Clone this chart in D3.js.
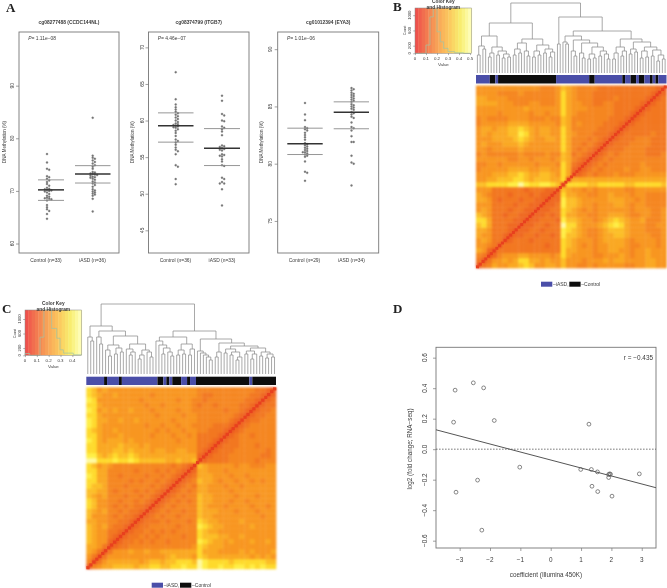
<!DOCTYPE html>
<html><head><meta charset="utf-8">
<script src="https://cdn.jsdelivr.net/npm/d3@7/dist/d3.min.js"></script>
<style>html,body{margin:0;padding:0;background:#fff}svg{display:block;font-family:"Liberation Sans",Arial,sans-serif}</style>
</head><body><svg id="c" width="667" height="588"></svg>
<script>
// ---------- Panel A data ----------
const a1Control=[77,75.4,74.2,74,72.8,72.6,72.3,72,71.7,71.3,71,70.6,70.4,70.3,70.2,70.1,70,69.9,69.7,69.4,69.1,68.9,68.7,68.6,68.5,68.4,68.2,67.3,66.9,66.5,66.2,65.6,64.7];
const a1Iasd=[83.9,76.7,76.3,76.1,75.8,75.5,75.2,74.9,74.6,74.2,73.6,73.5,73.3,73.2,73.1,73,72.9,72.7,72.6,72.5,72.3,72.1,71.8,71.6,71.4,71.1,70.8,70.3,70.1,69.9,69.7,69.5,69.3,69.1,68.5,66.1];
const a2Control=[66.6,62.9,62.2,61.8,61.5,61.2,61,60.8,60.6,60.4,60.2,60,59.8,59.6,59.5,59.4,59.3,59.2,59.1,59,58.8,58.6,58.3,57.9,57.4,57.2,57,56.7,56.3,56,55.8,55.4,53.9,53.7,52,51.3];
const a2Iasd=[63.4,62.7,60.9,60.7,60,59.9,59.2,59,58.8,58.5,58,56.6,56.5,56.4,56.2,56.1,56,55.9,55.4,55.3,55.2,55.1,54.7,54.4,53.9,53.8,52.2,52,51.6,51.4,51.4,50.6,48.4];
const a3Control=[85.3,84.3,83.8,83.2,83.1,83,82.9,82.7,82.5,82.3,82.1,81.8,81.7,81.6,81.5,81.4,81.3,81.2,81.1,81,81,80.9,80.8,80.7,80.6,80.2,79.3,79.2,78.5];
const a3Iasd=[86.6,86.5,86.4,86.2,86.1,86,85.9,85.8,85.7,85.6,85.5,85.4,85.2,85.1,85,84.9,84.8,84.7,84.5,84.4,84.3,84.1,84,83.6,83.2,83.1,82.9,82.4,81.9,81.9,80.7,80.1,80,78.1];
const a1Summary=[[70.2,72.1,68.2],[73.2,74.8,71.5]];
const a2Summary=[[59.3,61.05,57.05],[56.2,58.9,53.85]];
const a3Summary=[[81.75,83.1,80.8],[84.5,85.4,83.05]];
const a1Ticks=[60,70,80,90], a2Ticks=[45,50,55,60,65,70], a3Ticks=[75,80,85,90];
const a1Domain=[58.2,100.2], a2Domain=[41.9,72.1], a3Domain=[72.2,91.5];
// ---------- Panel D data ----------
const dX=[-3.15,-2.55,-2.21,-3.2,-1.86,1.26,-1.02,0.99,1.34,1.54,1.91,1.94,1.97,1.91,2.92,1.36,1.55,2.02,-2.41,-3.12,-2.27];
const dY=[0.387,0.435,0.402,0.177,0.188,0.164,-0.118,-0.133,-0.133,-0.149,-0.166,-0.162,-0.164,-0.186,-0.162,-0.243,-0.278,-0.308,-0.203,-0.282,-0.531];
const dFit=[-0.071,-0.0524];
const dXTicks=[-3,-2,-1,0,1,2,3], dYTicks=[-0.6,-0.4,-0.2,0,0.2,0.4,0.6];
// ---------- Heatmaps: lower triangles, bottom row first, column left to right; level digits ----------
const heatB=["1","31","431","6521","55431","565331","6553321","66533321","786333221","8863333221","76533233221","565333233221","5553333233221","66532333233221","654333233323221","5553333332333221","77888899a98899871","556677788767776681","5556667787667765861","45555566665566558621","445545555554555486321","5555554455455545764321","45444444544445447634321","554555556555555586434321","5655566676555555864434321","55566667876556658644434321","565666779865665586544433321","5665667787656655864444433321","45555566665555547645444433321","454444555544454476444444433321","5555455555455455865444444433321","55555555565555558655544444333321","666655544455444586554433443333321","6655554444444445865444333343333321","55554444544444458654443333333333321","555555555555444576544443333333333321"];
const heatC=["1","41","531","6531","66531","765521","7655321","76553321","765643321","6655443321","75554343321","765644343321","8755434343321","87554434434321","765644434434321","7766434443434321","87764443444434321","886644443434434321","9866443444434434321","88664444434443434321","875654444444444434321","aa88898898777776676671","99767877876666666666621","886667767666566556655321","8866667666565555555553321","98656665655555555455533321","886555655555455545545333321","8765565555555454554554433321","98655555555455455455444433321","986655655655555545555444444321","8865555555555455554554444444321","98565655655545555455444444344321","886555555554554555554344344443321","9855555555455555545544344444443321","87655655555545555555543344444443321","875655555555555555555444444444443321"];
const heatLevels=["#E8401E","#EC5620","#EF6820","#F27720","#F58620","#F89620","#FAA822","#FCBE26","#FEDA2C","#FFEE45","#FFF9A0"];
const diagColor="#E8401E";
// ---------- Dendrograms: [merge height, left, right], 0 = leaf ----------
const treeB=[70,[50,[37,[27,[18,0,0],[24,0,0]],[26,[20,[16,0,0],0],[22,[18,0,0],[19,[15,0,0],[16,0,0]]]]],
 [34,[30,[24,[18,0,0],[20,0,0]],[22,0,[17,0,0]]],[28,[22,[16,0,0],[18,0,0]],[24,[20,0,0],[21,[16,0,0],0]]]]],
 [56,[29,0,0],[42,[37,[31,0,[29,0,0]],[33,[22,0,[17,0,0]],[30,[20,0,[15,0,0]],[26,[19,[14,0,0],[15,0,0]],[22,[17,0,0],[19,0,[14,0,0]]]]]]],
 [34,[26,[20,[14,0,0],0],[22,[17,0,0],0]],[31,[24,[19,0,0],[21,0,0]],[26,[22,[15,0,0],[16,0,0]],[23,[17,0,0],[18,[12,0,0],[14,0,0]]]]]]]]];
const treeC=[70,[48,[37,0,[33,0,0]],[43,[37,0,[30,0,0]],[38,[29,[24,0,[18,0,0]],[26,[20,0,0],[22,0,0]]],[30,[25,0,[22,[19,0,0],0]],[24,[19,[15,0,0],0],[22,0,[17,0,0]]]]]]],
 [43,[37,[33,0,[29,0,[26,[20,0,0],[22,0,[18,0,0]]]]],[30,[24,[19,0,0],[20,0,0]],[25,[19,0,0],0]]],
 [35,[23,0,[21,0,[19,0,[17,0,[14,0,0]]]]],[31,[22,[17,0,0],0],[28,[25,[21,0,0],[22,[19,0,0],[17,[14,0,0],0]]],[26,[23,[20,0,0],[20,[15,0,0],0]],[22,[18,0,0],[20,[16,0,0],[17,0,0]]]]]]]]];
// ---------- Group colour bars: run lengths, starting with iASD ----------
const barRunsB=[5,2,1,21,12,2,10,1,2,2,1,2,2,1,1,1,3];
const barRunsC=[6,1,4,1,12,2,1,1,1,3,2,1,2,18,1,8];
// ---------- Colour keys ----------
const keyStops=["#EE4B4B","#F27A50","#F8A558","#FBC85E","#F8EE70","#FFFFC0"];
const histEdgesB=[0,0.1,0.136,0.166,0.2,0.23,0.26,0.3,0.36,0.44,0.5];
const histCountsB=[0,217,956,1170,565,300,130,43,15,0];
const histEdgesC=[0,0.04,0.127,0.16,0.225,0.268,0.296,0.324,0.408,0.479];
const histCountsC=[50,0,500,1250,740,470,150,60,15];
const keyCountTicks=[0,200,600,1000];
const keyXTicksB=[0,0.1,0.2,0.3,0.4,0.5], keyXTicksC=[0,0.1,0.2,0.3,0.4];

const svg=d3.select("#c");
const root=svg.append("g").style("filter","blur(0.45px)");
const ink="#3a3a3a", boxC="#777";
const FS=4.9;

function label(g,x,y,t,o={}){
  const e=g.append("text").attr("x",x).attr("y",y).attr("text-anchor",o.a||"middle").attr("font-size",o.s||FS).attr("fill",o.c||ink).text(t);
  if(o.w)e.attr("font-weight",o.w);
  if(o.f)e.attr("font-family",o.f);
  if(o.r)e.attr("transform",`rotate(${o.r} ${x} ${y})`);
  return e;
}
function swarm(vals,y,cx,d){
  const placed=[];
  vals.map(v=>({v,y:y(v)})).sort((a,b)=>a.y-b.y).forEach(p=>{
    let off=0;
    for(let k=0;k<14;k++){
      const c=k%2?(k+1)/2*d*0.5:-k/2*d*0.5;
      if(placed.every(q=>Math.hypot(q.x-(cx+c),q.y-p.y)>=d*0.9)){off=c;break;}
    }
    placed.push({x:cx+off,y:p.y});
  });
  return placed;
}
// ---------- Panel A ----------
const strips=[
 {x0:19,x1:119,dom:a1Domain,ticks:a1Ticks,title:"cg08277488 (CCDC144NL)",p:" 1.11e−08",ctrl:a1Control,iasd:a1Iasd,sum:a1Summary,cx:[47,92.7],lx:[[38,64],[75,110.5]],lab:["Control (n=33)","iASD (n=36)"],labX:[46,92.5],yt:5.5,tl:14},
 {x0:148.5,x1:249,dom:a2Domain,ticks:a2Ticks,title:"cg08374799 (ITGB7)",p:" 4.46e−07",ctrl:a2Control,iasd:a2Iasd,sum:a2Summary,cx:[175.7,222],lx:[[158,193.5],[204,240]],lab:["Control (n=36)","iASD (n=33)"],labX:[175.5,222],yt:134,tl:144},
 {x0:277.7,x1:378.7,dom:a3Domain,ticks:a3Ticks,title:"cg01012394 (EYA3)",p:" 1.01e−06",ctrl:a3Control,iasd:a3Iasd,sum:a3Summary,cx:[305,351.5],lx:[[287.3,322.7],[333.7,369]],lab:["Control (n=29)","iASD (n=34)"],labX:[304.5,351.5],yt:263,tl:272}
];
strips.forEach(s=>{
  const g=root.append("g");
  const y=d3.scaleLinear().domain(s.dom).range([253,32]);
  g.append("rect").attr("x",s.x0).attr("y",32).attr("width",s.x1-s.x0).attr("height",221).attr("fill","none").attr("stroke",boxC).attr("stroke-width",0.9);
  const ax=g.append("g").attr("transform",`translate(${s.x0},0)`).call(d3.axisLeft(y).tickValues(s.ticks).tickSize(3).tickFormat(d3.format("d")));
  ax.select(".domain").remove();
  ax.selectAll("line").attr("stroke",boxC).attr("stroke-width",0.7);
  ax.selectAll("text").remove();
  s.ticks.forEach(t=>label(g,s.tl,y(t),t,{r:-90}));
  label(g,s.yt,142,"DNA Methylation (%)",{r:-90,s:4.5});
  label(g,(s.x0+s.x1)/2,24.3,s.title,{w:"bold",s:4.9});
  const pt=label(g,s.x0+9.3,40,"",{a:"start"});
  pt.append("tspan").attr("font-style","italic").text("P=");
  pt.append("tspan").text(s.p);
  [s.ctrl,s.iasd].forEach((vals,i)=>{
    g.selectAll(null).data(swarm(vals,y,s.cx[i],2.2)).join("circle").attr("cx",d=>d.x).attr("cy",d=>d.y).attr("r",1).attr("fill","#777").attr("stroke","#666").attr("stroke-width",0.3);
    const [m,hi,lo]=s.sum[i];
    [hi,lo].forEach(v=>g.append("line").attr("x1",s.lx[i][0]).attr("x2",s.lx[i][1]).attr("y1",y(v)).attr("y2",y(v)).attr("stroke","#8a8a8a").attr("stroke-width",0.9));
    g.append("line").attr("x1",s.lx[i][0]).attr("x2",s.lx[i][1]).attr("y1",y(m)).attr("y2",y(m)).attr("stroke","#333").attr("stroke-width",1.5);
    label(g,s.labX[i],262,s.lab[i]);
  });
});
// ---------- Heatmap panels ----------
function heatPanel(o){
  const g=root.append("g");
  const kx=d3.scaleLinear().domain(o.keyDom).range([o.kx0,o.kx1]);
  const ky=d3.scaleLinear().domain([0,1000]).range([o.ky1,o.ky1000]);
  const kc=d3.scaleLinear().domain(d3.range(keyStops.length).map(i=>o.keyDom[0]+(o.keyDom[1]-o.keyDom[0])*i/(keyStops.length-1))).range(keyStops);
  const steps=d3.range(17);
  const sb=d3.scaleBand().domain(steps).range([o.kx0,o.kx1]);
  g.selectAll(null).data(steps).join("rect").attr("x",d=>sb(d)).attr("y",o.ky0).attr("width",sb.bandwidth()+0.4).attr("height",o.ky1-o.ky0)
    .attr("fill",d=>kc(o.keyDom[0]+(o.keyDom[1]-o.keyDom[0])*(d+0.5)/17));
  const hp=d3.path();hp.moveTo(kx(o.edges[0]),ky(0));
  o.counts.forEach((c,i)=>{hp.lineTo(kx(o.edges[i]),ky(c));hp.lineTo(kx(o.edges[i+1]),ky(c));});
  g.append("path").attr("d",hp).attr("fill","none").attr("stroke","#9fc4a6").attr("stroke-width",0.7);
  g.append("rect").attr("x",o.kx0).attr("y",o.ky0).attr("width",o.kx1-o.kx0).attr("height",o.ky1-o.ky0).attr("fill","none").attr("stroke","#888").attr("stroke-width",0.5);
  const ax=g.append("g").attr("transform",`translate(0,${o.ky1})`).call(d3.axisBottom(kx).tickValues(o.keyTicks).tickSize(1.8).tickFormat(d=>d));
  ax.select(".domain").remove();ax.selectAll("text").remove();ax.selectAll("line").attr("stroke","#666").attr("stroke-width",0.5);
  o.keyTicks.forEach(t=>label(g,kx(t),o.ky1+7,t,{s:4.4}));
  label(g,(o.kx0+o.kx1)/2,o.ky1+13,"Value",{s:4.4});
  const ay=g.append("g").attr("transform",`translate(${o.kx0},0)`).call(d3.axisLeft(ky).tickValues(keyCountTicks).tickSize(1.8));
  ay.select(".domain").remove();ay.selectAll("text").remove();ay.selectAll("line").attr("stroke","#666").attr("stroke-width",0.5);
  keyCountTicks.forEach(t=>label(g,o.kx0-4,ky(t),t,{s:4.2,r:-90}));
  label(g,o.kx0-9,ky(600),"Count",{s:3.4,r:-90});
  label(g,(o.kx0+o.kx1)/2,o.ky0-4.6,"Color Key",{w:"bold",s:4.8});
  label(g,(o.kx0+o.kx1)/2,o.ky0+0.5,"and Histogram",{w:"bold",s:4.8});
  const h=d3.hierarchy(o.tree,d=>Array.isArray(d)?d.slice(1):null);
  const lv=h.leaves();
  const bx=d3.scaleBand().domain(d3.range(lv.length)).range([o.hx0,o.hx1]);
  const dy=d3.scaleLinear().domain([0,70]).range([o.dBase,o.dTop]);
  lv.forEach((n,i)=>{n.px=bx(i)+bx.bandwidth()/2;n.h=0;});
  h.eachAfter(n=>{if(n.children){n.px=d3.mean(n.children,c=>c.px);n.h=n.data[0];}});
  const dp=d3.path();
  h.each(n=>{if(n.children){
    const a=n.children[0],b=n.children[1];
    dp.moveTo(a.px,dy(a.h));dp.lineTo(a.px,dy(n.h));dp.lineTo(b.px,dy(n.h));dp.lineTo(b.px,dy(b.h));
  }});
  g.append("path").attr("d",dp).attr("fill","none").attr("stroke","#8c8c8c").attr("stroke-width",0.75);
  const n=lv.length;let pos=0;
  o.runs.forEach((r,i)=>{
    g.append("rect").attr("x",bx(pos)).attr("y",o.by0).attr("width",r*bx.bandwidth()).attr("height",o.by1-o.by0).attr("fill",i%2?"#0d0d0d":"#4A4EA8");
    pos+=r;
  });
  const N=o.heat.length;
  const cx=d3.scaleBand().domain(d3.range(N)).range([o.hx0,o.hx1]);
  const cy=d3.scaleBand().domain(d3.range(N)).range([o.hy1,o.hy0]);
  const cells=[];
  o.heat.forEach((row,j)=>row.split("").forEach((ch,i)=>{
    const lvl=parseInt(ch,16);
    cells.push({i,j,lvl});
    if(i!==j)cells.push({i:j,j:i,lvl});
  }));
  const hg=g.append("g").style("filter","blur(0.9px)");
  hg.selectAll(null).data(cells).join("rect").attr("x",d=>cx(d.i)).attr("y",d=>cy(d.j)).attr("width",cx.bandwidth()+0.3).attr("height",cy.bandwidth()+0.3).attr("fill",d=>heatLevels[d.lvl]);
  const sx=d3.scaleBand().domain(d3.range(n)).range([o.hx0,o.hx1]);
  const sy=d3.scaleBand().domain(d3.range(n)).range([o.hy1,o.hy0]);
  g.selectAll(null).data(d3.range(n)).join("rect").attr("x",d=>sx(d)).attr("y",d=>sy(d)).attr("width",sx.bandwidth()+0.3).attr("height",sy.bandwidth()+0.3).attr("fill",diagColor);
  g.append("rect").attr("x",o.lx).attr("y",o.ly).attr("width",11.3).attr("height",5).attr("fill","#4A4EA8");
  label(g,o.lx+12,o.ly+4.6,"–iASD,",{a:"start",s:5});
  g.append("rect").attr("x",o.lx+28.3).attr("y",o.ly).attr("width",11.3).attr("height",5).attr("fill","#0d0d0d");
  label(g,o.lx+40.3,o.ly+4.6,"–Control",{a:"start",s:5});
}
heatPanel({id:"B",tree:treeB,runs:barRunsB,heat:heatB,hx0:476,hx1:666.5,hy0:85.5,hy1:268,by0:75,by1:83.5,dBase:73,dTop:3,keyDom:[0,0.515],kx0:415,kx1:471.7,ky0:8,ky1:53.3,ky1000:15.2,edges:histEdgesB,counts:histCountsB,keyTicks:keyXTicksB,lx:541,ly:281.7});
heatPanel({id:"C",tree:treeC,runs:barRunsC,heat:heatC,hx0:86.3,hx1:276,hy0:387.3,hy1:569,by0:376.7,by1:385,dBase:374,dTop:304,keyDom:[0,0.479],kx0:25,kx1:81.7,ky0:310,ky1:355.3,ky1000:319,edges:histEdgesC,counts:histCountsC,keyTicks:keyXTicksC,lx:151.7,ly:582.7});
// ---------- Panel D ----------
{
  const g=root.append("g");
  const x=d3.scaleLinear().domain([-3.78,3.47]).range([436,656]);
  const y=d3.scaleLinear().domain([-0.648,0.668]).range([548,347.3]);
  g.append("rect").attr("x",436).attr("y",347.3).attr("width",220).attr("height",200.7).attr("fill","none").attr("stroke",boxC).attr("stroke-width",0.9);
  const ax=g.append("g").attr("transform","translate(0,548)").call(d3.axisBottom(x).tickValues(dXTicks).tickSize(3));
  ax.select(".domain").remove();ax.selectAll("text").remove();ax.selectAll("line").attr("stroke",boxC).attr("stroke-width",0.7);
  dXTicks.forEach(t=>label(g,x(t),562,String(t).replace("-","−"),{s:6.4}));
  const ay=g.append("g").attr("transform","translate(436,0)").call(d3.axisLeft(y).tickValues(dYTicks).tickSize(3));
  ay.select(".domain").remove();ay.selectAll("text").remove();ay.selectAll("line").attr("stroke",boxC).attr("stroke-width",0.7);
  dYTicks.forEach(t=>label(g,427,y(t),d3.format(".1f")(t).replace("-","−"),{s:6.4,r:-90}));
  label(g,546,577,"coefficient (Illumina 450K)",{s:6.3});
  label(g,412,449,"log2 (fold change; RNA−seq)",{s:6.3,r:-90});
  label(g,653,360,"r = −0.435",{a:"end",s:6.4});
  g.append("line").attr("x1",436).attr("x2",656).attr("y1",y(0)).attr("y2",y(0)).attr("stroke","#444").attr("stroke-width",0.7).attr("stroke-dasharray","1.6,1.4");
  const xd=x.domain();
  g.append("line").attr("x1",x(xd[0])).attr("x2",x(xd[1])).attr("y1",y(dFit[0]+dFit[1]*xd[0])).attr("y2",y(dFit[0]+dFit[1]*xd[1])).attr("stroke","#555").attr("stroke-width",1);
  g.selectAll(null).data(dX.map((v,i)=>[v,dY[i]])).join("circle").attr("cx",d=>x(d[0])).attr("cy",d=>y(d[1])).attr("r",1.9).attr("fill","none").attr("stroke","#555").attr("stroke-width",0.7);
}
[["A",6,12],["B",393,11],["C",2,313],["D",393,313]].forEach(([t,x,y])=>{
  label(root,x,y,t,{a:"start",s:13,w:"bold",c:"#222",f:"'Liberation Serif',serif"});
});
</script></body></html>
